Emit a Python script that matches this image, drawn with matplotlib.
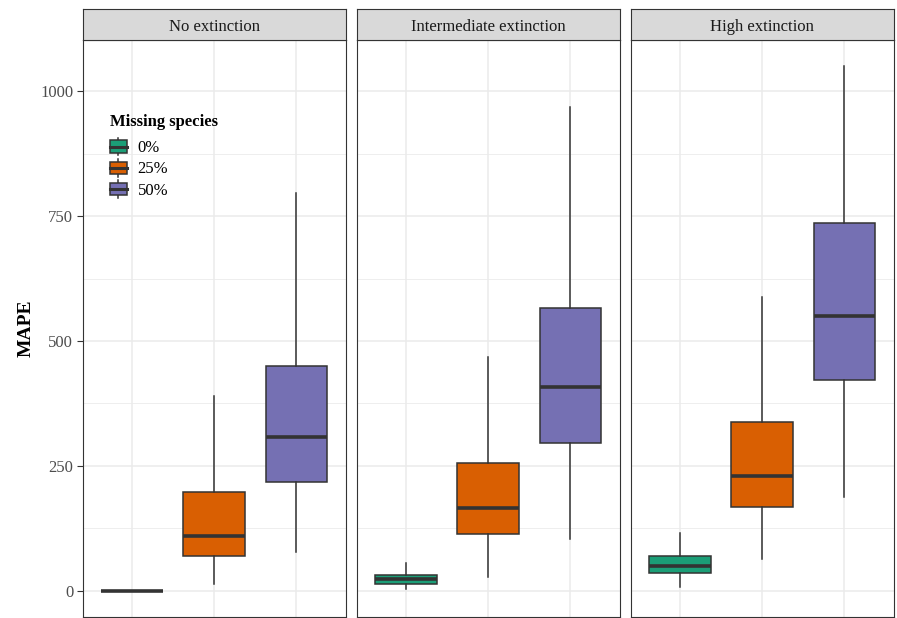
import matplotlib
matplotlib.use("Agg")
import matplotlib.pyplot as plt
from matplotlib.legend_handler import HandlerBase
from matplotlib.patches import Rectangle
from matplotlib.lines import Line2D

plt.rcParams['font.family'] = ['Liberation Serif', 'DejaVu Serif']

# Facets and groups
panels = ["No extinction", "Intermediate extinction", "High extinction"]
groups = ["0%", "25%", "50%"]
colors = ["#1B9E77", "#D95F02", "#7570B3"]

# Box statistics per facet, one entry per group: whisker low, Q1, median, Q3, whisker high
whislo = [[0, 14, 78], [3, 28, 103], [8, 63, 187]]
q1 = [[0, 69, 217], [14, 113, 296], [36, 167, 422]]
med = [[0, 110, 307], [24, 165, 408], [50, 229, 551]]
q3 = [[0, 198, 449], [32, 255, 567], [70, 338, 736]]
whishi = [[0, 390, 796], [56, 467, 968], [116, 589, 1051]]

yticks = [0, 250, 500, 750, 1000]
minor_ticks = [125, 375, 625, 875]

W, H = 897, 618
fig = plt.figure(figsize=(W / 100, H / 100), dpi=100)

edge = "#333333"
grid = "#EBEBEB"
lw = 1.1

panel_left = [83, 357, 631]
panel_w = 262.5
top_px, bot_px = 40, 617
strip_h = 31

axes = []
for i, name in enumerate(panels):
    ax = fig.add_axes([panel_left[i] / W, (H - bot_px) / H,
                       panel_w / W, (bot_px - top_px) / H])
    axes.append(ax)
    ax.set_xlim(0.4, 3.6)
    ax.set_ylim(-52.5, 1102.5)
    for y in yticks:
        ax.axhline(y, color=grid, lw=1.1, zorder=0)
    for y in minor_ticks:
        ax.axhline(y, color=grid, lw=0.6, zorder=0)
    for x in (1, 2, 3):
        ax.axvline(x, color=grid, lw=1.1, zorder=0)

    stats = []
    for g in range(3):
        stats.append(dict(whislo=whislo[i][g], q1=q1[i][g], med=med[i][g],
                          q3=q3[i][g], whishi=whishi[i][g], fliers=[]))
    bp = ax.bxp(stats, positions=[1, 2, 3], widths=0.75, patch_artist=True,
                showcaps=False, showfliers=False,
                boxprops=dict(edgecolor=edge, linewidth=lw),
                whiskerprops=dict(color=edge, linewidth=lw),
                medianprops=dict(color=edge, linewidth=2.6, solid_capstyle='butt'),
                manage_ticks=False)
    for patch, c in zip(bp['boxes'], colors):
        patch.set_facecolor(c)
        patch.set_zorder(2)

    ax.set_xticks([])
    for s in ax.spines.values():
        s.set_color(edge)
        s.set_linewidth(0.8)
    if i == 0:
        ax.set_yticks(yticks)
        ax.set_yticklabels([str(t) for t in yticks], fontsize=12, color="#4D4D4D")
        ax.tick_params(axis='y', length=4, width=0.8, color=edge, pad=3)
        ax.set_ylabel("MAPE", fontsize=14, fontweight='bold', labelpad=4)
    else:
        ax.set_yticks([])

    # facet strip
    sax = fig.add_axes([panel_left[i] / W, (H - top_px) / H,
                        panel_w / W, strip_h / H])
    sax.set_facecolor("#D9D9D9")
    sax.set_xticks([])
    sax.set_yticks([])
    for s in sax.spines.values():
        s.set_color(edge)
        s.set_linewidth(0.8)
    sax.text(0.5, 0.30, name, ha='center', va='baseline', fontsize=12,
             color="#1A1A1A", transform=sax.transAxes)


class BoxKey(HandlerBase):
    def create_artists(self, legend, orig_handle, xdescent, ydescent,
                       width, height, fontsize, trans):
        c = orig_handle.get_facecolor()
        bw, bh = width, height * 0.95
        x0 = -xdescent
        cx = -xdescent + width / 2
        cy = -ydescent + height / 2
        y0 = cy - bh / 2
        rect = Rectangle((x0, y0), bw, bh, facecolor=c, edgecolor=edge,
                         lw=lw, transform=trans)
        m = Line2D([x0, x0 + bw], [cy, cy], color=edge, lw=2.2, transform=trans)
        w1 = Line2D([cx, cx], [y0 + bh, cy + height * 0.7], color=edge,
                    lw=lw, transform=trans)
        w2 = Line2D([cx, cx], [y0, cy - height * 0.7], color=edge,
                    lw=lw, transform=trans)
        return [w1, w2, rect, m]


handles = [Rectangle((0, 0), 1, 1, facecolor=c) for c in colors]
leg = axes[0].legend(handles, groups, handler_map={Rectangle: BoxKey()},
                     title="Missing species", loc='upper left',
                     bbox_to_anchor=(0.103, 0.871), frameon=False,
                     fontsize=12, title_fontproperties=dict(weight='bold', size=12),
                     handlelength=1.0, handleheight=0.8, handletextpad=0.65,
                     labelspacing=0.3, alignment='left', borderpad=0,
                     borderaxespad=0)
leg._legend_box.sep = 7

fig.savefig("out.png", dpi=100)
